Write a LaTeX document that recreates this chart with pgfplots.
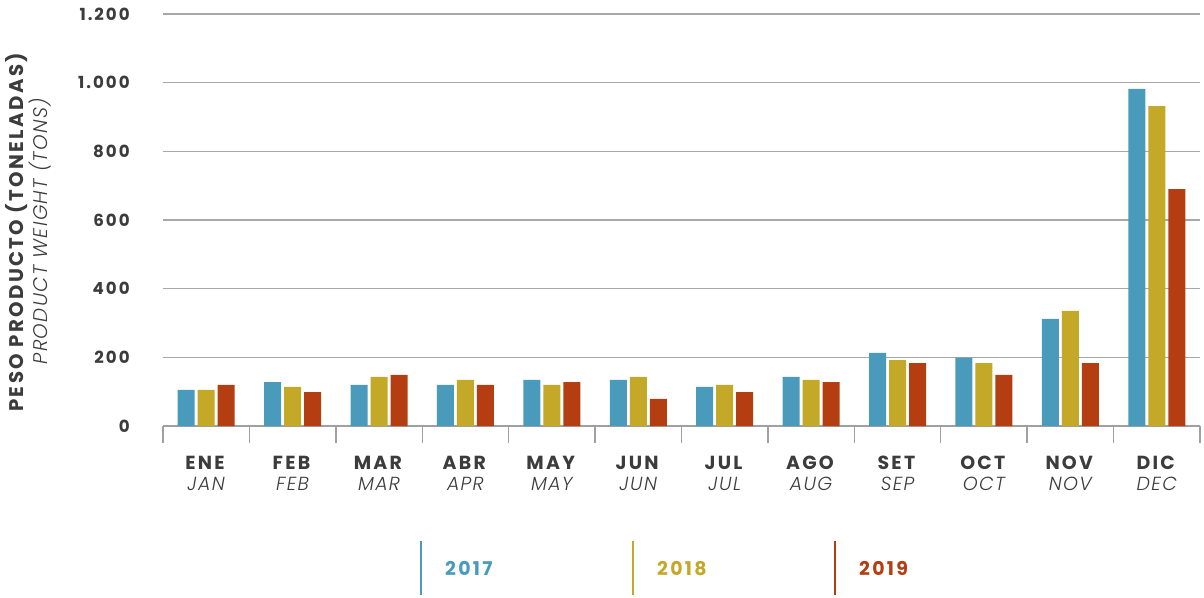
\documentclass[border=0pt]{standalone}
\usepackage{fontspec}
\setmainfont{Poppins}[BoldFeatures={LetterSpace=12}, ItalicFeatures={LetterSpace=6}]
\newfontfamily\lightfont{Poppins}[UprightFont=* Light, ItalicFont=* Light Italic, BoldFont=* Bold, ItalicFeatures={LetterSpace=7}]
\newcommand{\li}[1]{{\lightfont\itshape #1}}
\usepackage{pgfplots}
\pgfplotsset{compat=1.18}
\definecolor{cA}{HTML}{4A9BBB}
\definecolor{cB}{HTML}{C4A828}
\definecolor{cC}{HTML}{B43E12}
\definecolor{txt}{HTML}{3C3C3C}
\definecolor{gridc}{HTML}{A8A8A8}
\definecolor{axc}{HTML}{A0A0A0}
\begin{document}
\begin{tikzpicture}
\begin{axis}[
  width=777.75pt, height=309pt, scale only axis,
  xmin=0.5, xmax=12.5, ymin=0, ymax=1200,
  ybar=2.25pt, bar width=12.75pt,
  axis x line*=bottom, axis y line*=left,
  y axis line style={draw=none},
  x axis line style={draw=axc, line width=1.1pt},
  tick align=outside, major tick length=0pt,
  ytick={0,200,...,1200},
  ytick style={draw=none},
  ymajorgrids, grid style={draw=gridc, line width=0.8pt},
  /pgf/number format/.cd, 1000 sep={.}, assume math mode=true, /pgfplots/.cd,
  yticklabel style={font=\fontsize{12.5}{14}\selectfont\bfseries, text=txt, inner sep=0pt, xshift=-24.75pt},
  xtick={1,...,12},
  xtick style={draw=none},
  xticklabels={{\textbf{ENE}\\\li{JAN}},{\textbf{FEB}\\\li{FEB}},{\textbf{MAR}\\\li{MAR}},{\textbf{ABR}\\\li{APR}},{\textbf{MAY}\\\li{MAY}},{\textbf{JUN}\\\li{JUN}},{\textbf{JUL}\\\li{JUL}},{\textbf{AGO}\\\li{AUG}},{\textbf{SET}\\\li{SEP}},{\textbf{OCT}\\\li{OCT}},{\textbf{NOV}\\\li{NOV}},{\textbf{DIC}\\\li{DEC}}},
  xticklabel style={align=center, font=\fontsize{14.2}{15.75}\selectfont, text=txt, inner sep=0pt, yshift=-22.5pt},
  extra x ticks={0.5,1.5,...,12.5},
  extra x tick labels={},
  extra x tick style={major tick length=12.75pt, tick align=outside, xtick style={draw=axc, line width=1.1pt}},
  ylabel={\textbf{PESO\ PRODUCTO\ (TONELADAS)}\\\li{PRODUCT\ WEIGHT\ (TONS)}},
  ylabel style={align=center, at={(axis description cs:-0.1302,0.473)}, anchor=center, font=\fontsize{14.8}{15}\selectfont, text=txt},
  legend columns=3,
  legend style={at={(axis description cs:0.2478,-0.3447)}, anchor=west, draw=none, fill=none, inner sep=0pt,
     nodes={inner sep=0pt}, column sep=0pt, font=\fontsize{14.2}{15}\selectfont\bfseries},
]
\addplot[fill=cA, draw=none, legend image code/.code={\draw[draw=cA, line width=1.5pt] (0pt,-20.6pt) -- (0pt,20.6pt); \path[draw=none, fill=none] (0pt,0pt) rectangle (18pt,0.1pt);}]
 coordinates {(1,105) (2,128) (3,120) (4,120) (5,134) (6,134) (7,114) (8,143) (9,213) (10,199) (11,312) (12,982)};
\addlegendentry{\makebox[140.25pt][l]{\raisebox{-2.5pt}{\textcolor{cA}{2017}}}}
\addplot[fill=cB, draw=none, legend image code/.code={\draw[draw=cB, line width=1.5pt] (0pt,-20.6pt) -- (0pt,20.6pt); \path[draw=none, fill=none] (0pt,0pt) rectangle (18pt,0.1pt);}]
 coordinates {(1,105) (2,114) (3,143) (4,134) (5,120) (6,143) (7,120) (8,134) (9,192) (10,183) (11,335) (12,932)};
\addlegendentry{\makebox[132.75pt][l]{\raisebox{-2.5pt}{\textcolor{cB}{2018}}}}
\addplot[fill=cC, draw=none, legend image code/.code={\draw[draw=cC, line width=1.5pt] (0pt,-20.6pt) -- (0pt,20.6pt); \path[draw=none, fill=none] (0pt,0pt) rectangle (18pt,0.1pt);}]
 coordinates {(1,120) (2,99) (3,149) (4,120) (5,128) (6,79) (7,99) (8,128) (9,183) (10,149) (11,183) (12,690)};
\addlegendentry{\raisebox{-2.5pt}{\textcolor{cC}{2019}}}
\end{axis}
\pgfresetboundingbox
\path[use as bounding box] (-122.25pt,-128.25pt) rectangle (780.75pt,319.5pt);
\end{tikzpicture}
\end{document}
